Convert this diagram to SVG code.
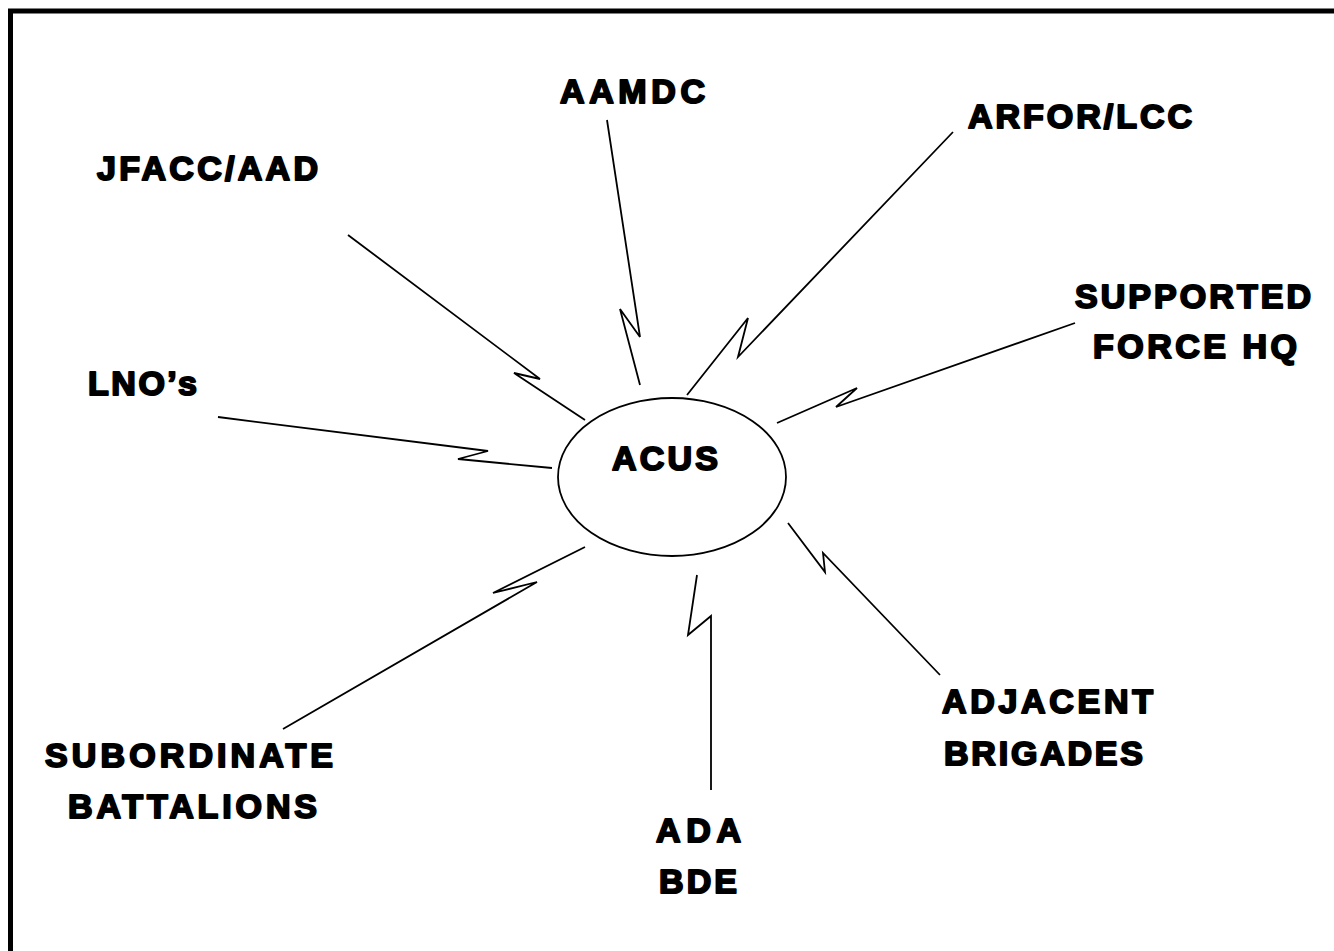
<svg xmlns="http://www.w3.org/2000/svg" width="1334" height="951" viewBox="0 0 1334 951">
<style>
.lbl{font-family:"Liberation Sans",Arial,sans-serif;font-weight:bold;font-size:34px;fill:#000;stroke:#000;stroke-width:2px;stroke-linejoin:round}
.conn{fill:none;stroke:#000;stroke-width:1.8;stroke-linejoin:miter}
.node ellipse{fill:#fff;stroke:#000;stroke-width:1.8}
</style>
<rect x="0" y="0" width="1334" height="951" fill="#fff"/>
<rect x="10.5" y="11" width="1400" height="1000" fill="none" stroke="#000" stroke-width="5"/>
<g id="connectors">
<polyline class="conn" points="348,235 540,379 514,373 585,420"/>
<polyline class="conn" points="607,120 640,337 620,309 640,385"/>
<polyline class="conn" points="953,132 738,357 748,318 687,395"/>
<polyline class="conn" points="1075,323 836,407 857,388 777,423"/>
<polyline class="conn" points="218,417 488,451 458,459 552,468"/>
<polyline class="conn" points="283,729 537,582 493,593 585,547"/>
<polyline class="conn" points="711,790 711,616 688,635 697,575"/>
<polyline class="conn" points="940,675 823,553 825,572 788,523"/>
</g>
<g id="acus" class="node">
<ellipse cx="672" cy="477" rx="114" ry="79"/>
<text class="lbl" x="612" y="470" textLength="106" lengthAdjust="spacing">ACUS</text>
</g>
<g id="aamdc" class="node"><text class="lbl" x="560" y="103" textLength="145" lengthAdjust="spacing">AAMDC</text></g>
<g id="arfor" class="node"><text class="lbl" x="968" y="128" textLength="224" lengthAdjust="spacing">ARFOR/LCC</text></g>
<g id="jfacc" class="node"><text class="lbl" x="97" y="180" textLength="221" lengthAdjust="spacing">JFACC/AAD</text></g>
<g id="supported" class="node">
<text class="lbl" x="1075" y="308" textLength="236" lengthAdjust="spacing">SUPPORTED</text>
<text class="lbl" x="1093" y="358" textLength="204" lengthAdjust="spacing">FORCE HQ</text>
</g>
<g id="lnos" class="node"><text class="lbl" x="88" y="395" textLength="109" lengthAdjust="spacing">LNO’s</text></g>
<g id="adjacent" class="node">
<text class="lbl" x="942" y="713" textLength="211" lengthAdjust="spacing">ADJACENT</text>
<text class="lbl" x="944" y="765" textLength="199" lengthAdjust="spacing">BRIGADES</text>
</g>
<g id="subordinate" class="node">
<text class="lbl" x="45" y="767" textLength="288" lengthAdjust="spacing">SUBORDINATE</text>
<text class="lbl" x="68" y="818" textLength="249" lengthAdjust="spacing">BATTALIONS</text>
</g>
<g id="ada" class="node">
<text class="lbl" x="656" y="842" textLength="85" lengthAdjust="spacing">ADA</text>
<text class="lbl" x="659" y="893" textLength="78" lengthAdjust="spacing">BDE</text>
</g>
</svg>
